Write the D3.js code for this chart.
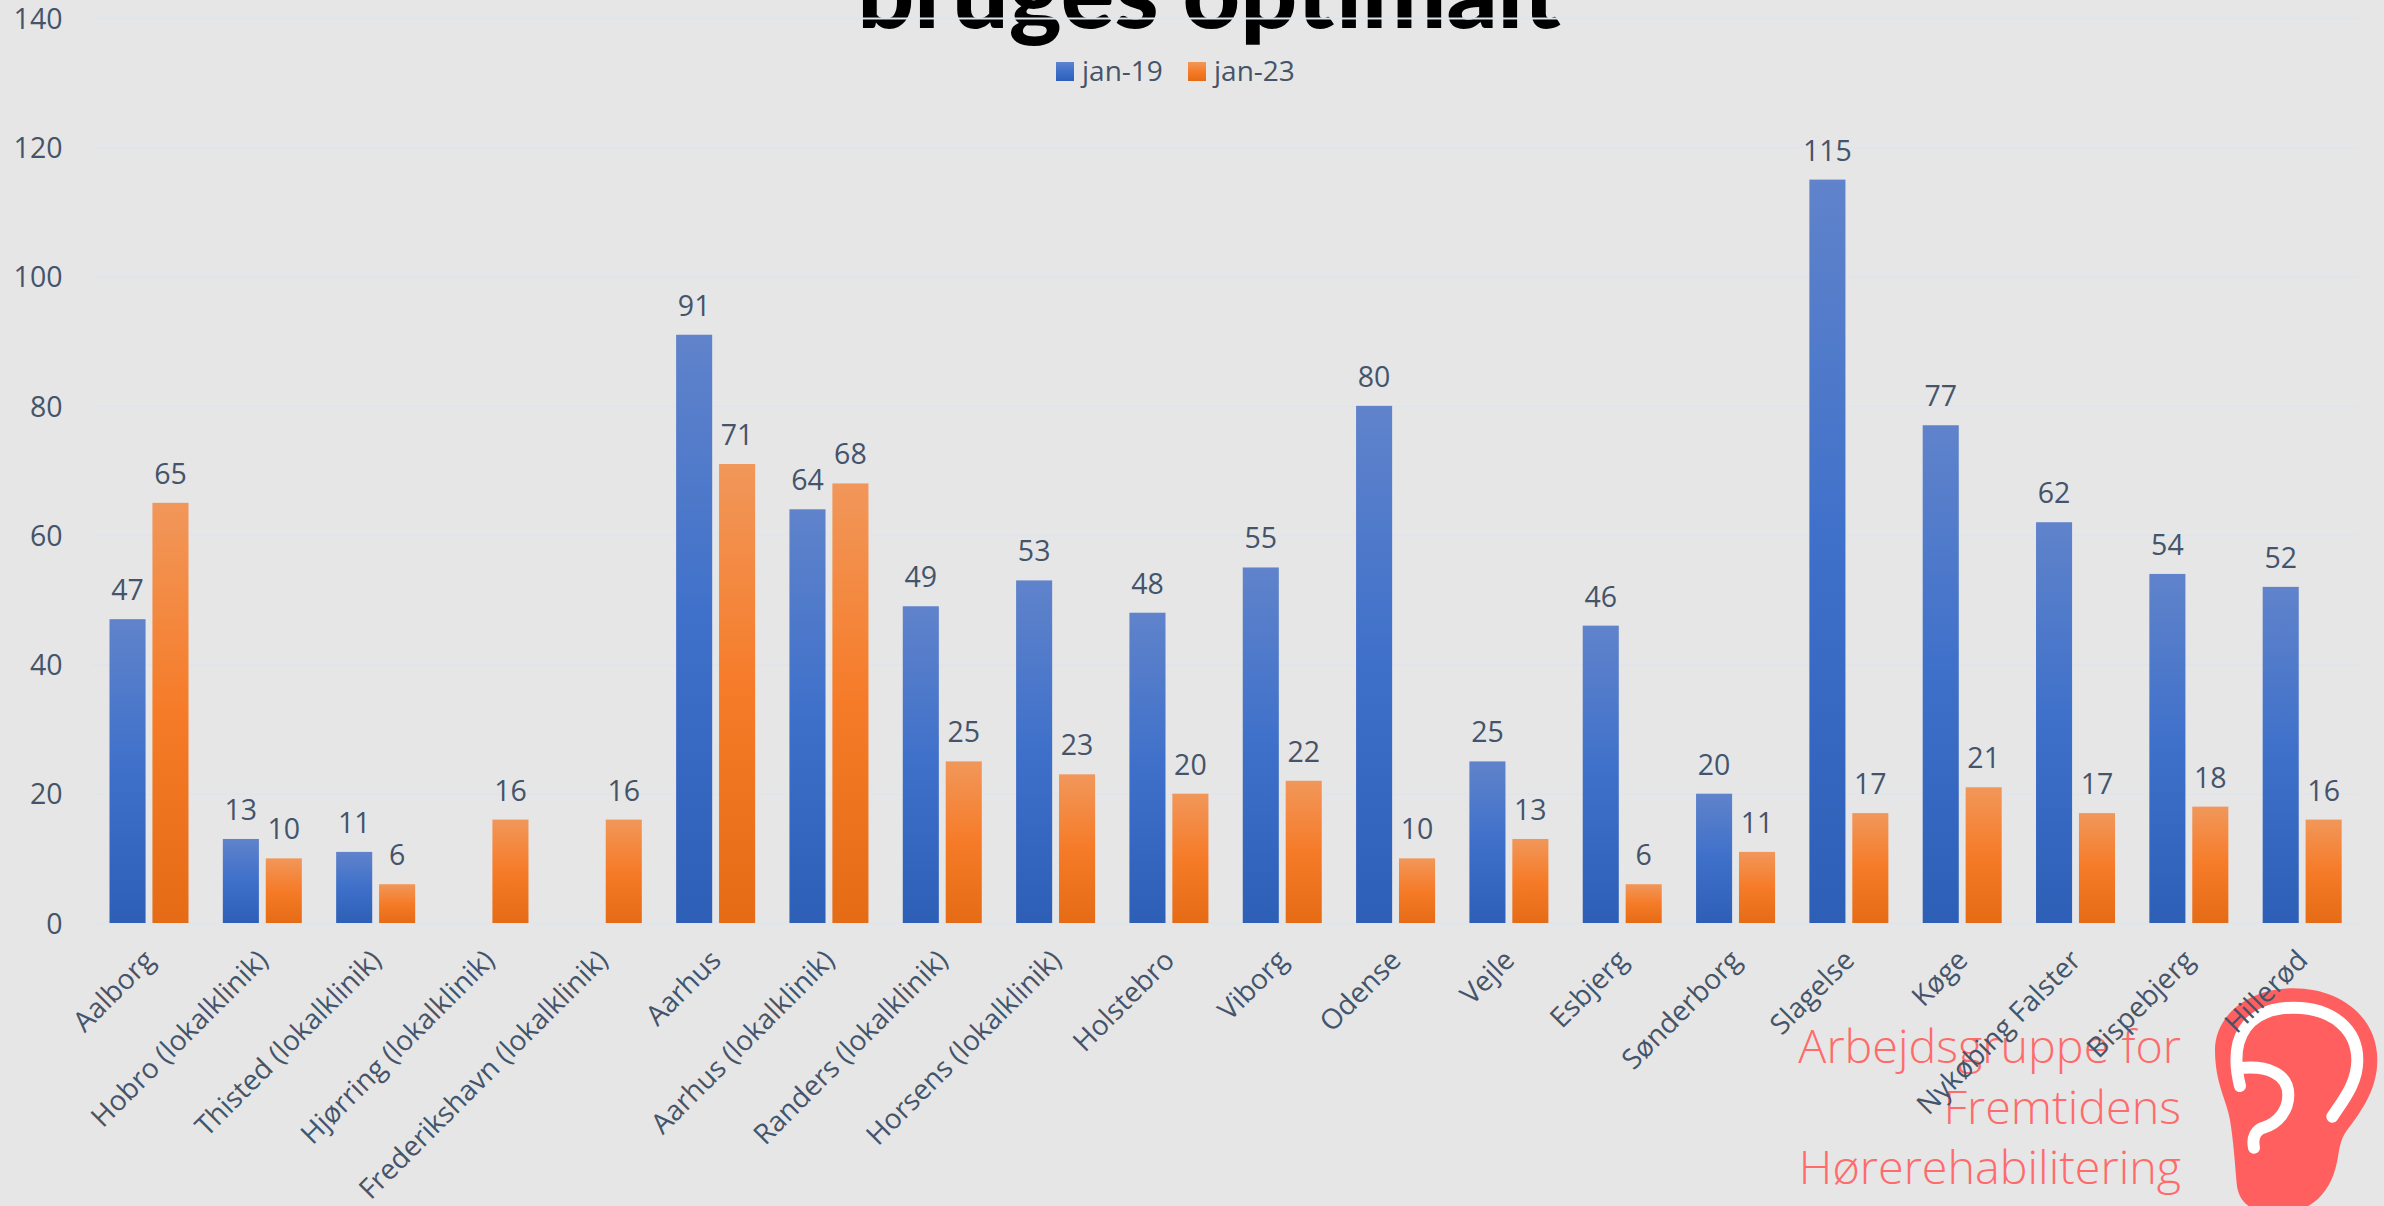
<!DOCTYPE html>
<html>
<head>
<meta charset="utf-8">
<script src="https://cdn.jsdelivr.net/npm/d3@7"></script>
<style>
html, body { margin: 0; padding: 0; background: #e6e6e6; overflow: hidden; }
svg { display: block; }
text { font-family: "Open Sans", sans-serif; }
</style>
</head>
<body>
<svg id="chart" width="2384" height="1206"></svg>
<script>
// chart data
const categories = ["Aalborg", "Hobro (lokalklinik)", "Thisted (lokalklinik)", "Hjørring (lokalklinik)",
    "Frederikshavn (lokalklinik)", "Aarhus", "Aarhus (lokalklinik)", "Randers (lokalklinik)",
    "Horsens (lokalklinik)", "Holstebro", "Viborg", "Odense", "Vejle", "Esbjerg", "Sønderborg",
    "Slagelse", "Køge", "Nykøbing Falster", "Bispebjerg", "Hillerød"];
const seriesNames = ["jan-19", "jan-23"];
const jan19 = [47, 13, 11, null, null, 91, 64, 49, 53, 48, 55, 80, 25, 46, 20, 115, 77, 62, 54, 52];
const jan23 = [65, 10, 6, 16, 16, 71, 68, 25, 23, 20, 22, 10, 13, 6, 11, 17, 21, 17, 18, 16];
const yTicks = [0, 20, 40, 60, 80, 100, 120, 140];
const titleText = "bruges optimalt";
const logoLines = ["Arbejdsgruppe for", "Fremtidens", "Hørerehabilitering"];

const svg = d3.select("#chart");
const textColor = "#44546a";

// gradients like the office bar fill
const defs = svg.append("defs");
function addGradient(id, stops) {
    const g = defs.append("linearGradient").attr("id", id)
        .attr("x1", 0).attr("x2", 0).attr("y1", 0).attr("y2", 1);
    g.selectAll("stop").data(stops).enter().append("stop")
        .attr("offset", d => d[0])
        .attr("stop-color", d => d[1]);
}
addGradient("blueFill", [[0, "#6083cb"], [0.5, "#3e70ca"], [1, "#2e5fb7"]]);
addGradient("orangeFill", [[0, "#f1975a"], [0.5, "#f67b28"], [1, "#e56b15"]]);
const fills = ["url(#blueFill)", "url(#orangeFill)"];

// scales
const x0 = d3.scaleBand().domain(categories).range([92.5, 2359]);
const x1 = d3.scaleBand().domain(seriesNames).range([17, 96]).paddingInner(0.16);
const y = d3.scaleLinear().domain([0, 140]).range([923, 18]);

// title sits behind the gridlines, cut by the top of the page
svg.append("text")
    .attr("x", 1209).attr("y", 28)
    .attr("text-anchor", "middle")
    .attr("font-size", 100)
    .attr("font-weight", 900)
    .style("font-family", "Lato")
    .attr("fill", "#000")
    .text(titleText);

// y axis
const yAxis = d3.axisLeft(y).tickValues(yTicks).tickSize(-(x0.range()[1] - x0.range()[0])).tickPadding(30);
const yG = svg.append("g").attr("transform", "translate(" + x0.range()[0] + ",0)").call(yAxis);
yG.select(".domain").remove();
yG.selectAll("line").attr("stroke", "#e0e5eb").attr("stroke-width", 2);
yG.selectAll("text").attr("fill", textColor).attr("font-size", 28.5).attr("dy", "0.36em").style("font-family", "'Open Sans'");

// bars
const groups = svg.selectAll("g.cat").data(categories).enter().append("g")
    .attr("class", "cat")
    .attr("transform", d => "translate(" + x0(d) + ",0)");

[jan19, jan23].forEach(function (values, s) {
    const name = seriesNames[s];
    groups.filter((d, i) => values[i] != null).append("rect")
        .attr("x", x1(name))
        .attr("width", x1.bandwidth())
        .attr("y", d => y(values[categories.indexOf(d)]))
        .attr("height", d => y(0) - y(values[categories.indexOf(d)]))
        .attr("fill", fills[s]);
    groups.filter((d, i) => values[i] != null).append("text")
        .attr("x", x1(name) + x1.bandwidth() / 2)
        .attr("y", d => y(values[categories.indexOf(d)]) - 19)
        .attr("text-anchor", "middle")
        .attr("font-size", 28.5)
        .attr("fill", textColor)
        .text(d => values[categories.indexOf(d)]);
});

// legend
const legendX = [1056, 1188];
seriesNames.forEach(function (name, i) {
    svg.append("rect").attr("x", legendX[i]).attr("y", 62).attr("width", 18).attr("height", 19).attr("fill", fills[i]);
    svg.append("text").attr("x", legendX[i] + 26).attr("y", 81)
        .attr("font-size", 28).attr("fill", textColor).text(name);
});

// logo
svg.selectAll("text.logo").data(logoLines).enter().append("text")
    .attr("class", "logo")
    .attr("x", 2181)
    .attr("y", (d, i) => 1063 + i * 60.5)
    .attr("text-anchor", "end")
    .attr("font-size", 46.7)
    .attr("font-weight", 300)
    .attr("fill", "#ff6b6b")
    .text(d => d);

const ear = svg.append("g").attr("transform", "translate(2180,960) scale(0.3333)");
ear.append("path")
    .attr("d", "M340,85 C480,85 592,170 592,300 C592,400 530,470 495,520 C475,550 478,590 465,630 C445,700 390,760 300,760 C215,760 175,730 170,670 C165,610 160,540 150,480 C140,420 105,370 105,270 C105,170 200,85 340,85Z")
    .attr("fill", "#ff5f5f");
ear.append("path")
    .attr("d", "M180,378 C168,330 165,290 175,250 C195,175 260,143 340,143 C460,143 532,210 532,300 C532,370 490,420 457,470 M175,325 C260,315 325,340 325,405 C325,450 295,490 250,503 C230,510 215,530 222,563")
    .attr("fill", "none").attr("stroke", "#fff").attr("stroke-width", 36).attr("stroke-linecap", "round");

// category labels go over the logo
svg.selectAll("text.catlabel").data(categories).enter().append("text")
    .attr("class", "catlabel")
    .attr("text-anchor", "end")
    .attr("font-size", 28)
    .attr("fill", textColor)
    .attr("transform", d => "translate(" + (x0(d) + x0.bandwidth() / 2 + 7) + ",962) rotate(-45)")
    .text(d => d);
</script>
</body>
</html>
